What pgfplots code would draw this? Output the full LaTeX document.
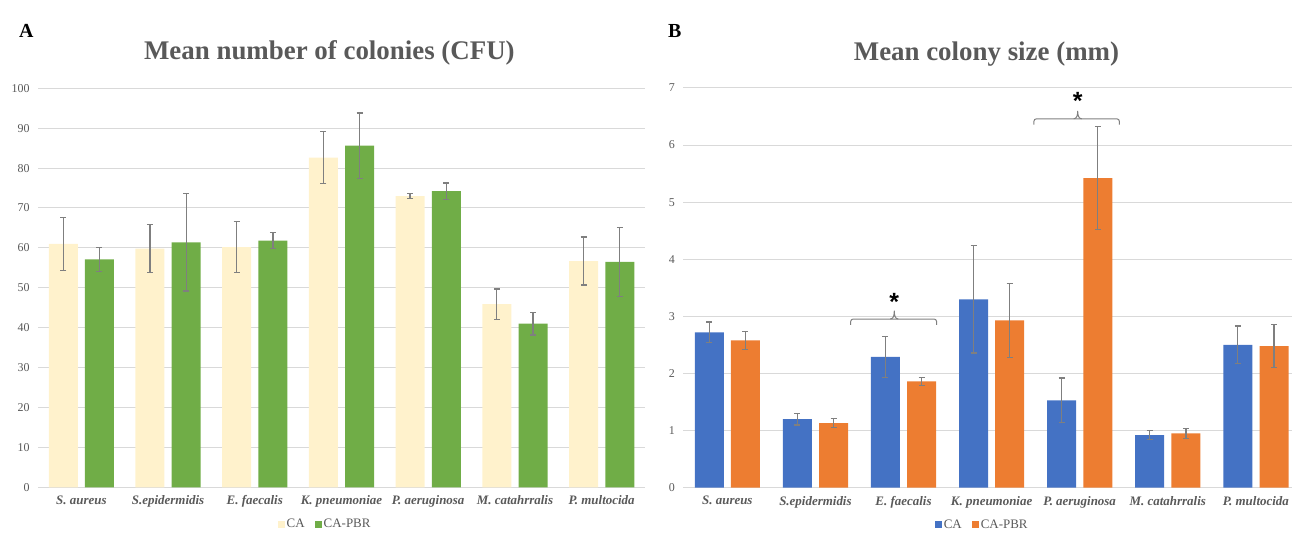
\documentclass[border=0pt]{standalone}
\usepackage{pgfplots}
\pgfplotsset{compat=1.18}
\usepackage{fontspec}
\setmainfont{Liberation Serif}
\newfontfamily\sansfnt{Liberation Sans}
\definecolor{caY}{HTML}{FFF2CC}
\definecolor{pbrG}{HTML}{70AD47}
\definecolor{caB}{HTML}{4472C4}
\definecolor{pbrO}{HTML}{ED7D31}
\definecolor{txt}{HTML}{595959}
\definecolor{grd}{HTML}{D9D9D9}
\definecolor{errc}{HTML}{7F7F7F}

\pgfplotsset{
  panel/.style={
    scale only axis,
    ybar=7.2bp, bar width=29bp,
    xmin=-0.5, ymin=0,
    xtick={0,...,6},
    xticklabels={S. aureus, S.epidermidis, E. faecalis, K. pneumoniae, P. aeruginosa, M. catahrralis, P. multocida},
    x tick label style={font=\fontsize{13}{15}\selectfont\bfseries\itshape, text=txt, yshift=-5bp},
    y tick label style={font=\fontsize{12}{14}\selectfont, text=txt, xshift=-5bp},
    /pgf/number format/assume math mode=true,
    axis line style={draw=none},
    major tick length=0pt,
    ymajorgrids, grid style={grd, line width=1bp},
    clip=false,
    error bars/y dir=both, error bars/y explicit,
    error bars/error bar style={draw=errc, line width=1.3bp},
    error bars/error mark options={rotate=90, draw=errc, mark size=3bp, line width=1.3bp},
    legend image code/.code={\fill[##1] (0bp,-3.5bp) rectangle (7bp,3.5bp);},
    legend style={anchor=center, draw=none, fill=none, legend columns=-1,
      font=\fontsize{13}{15}\selectfont, text=txt, inner sep=0pt,
      /tikz/every even column/.append style={column sep=8bp}},
    title style={anchor=base, font=\fontsize{27}{32}\selectfont\bfseries, text=txt},
  }
}

\begin{document}
\begin{tikzpicture}[x=1bp,y=1bp]
\useasboundingbox (0,0) rectangle (1292,533);
\node[anchor=base west, inner sep=0, font=\fontsize{20}{24}\selectfont\bfseries] at (19,495) {A};
\node[anchor=base west, inner sep=0, font=\fontsize{20}{24}\selectfont\bfseries] at (668,495) {B};

\begin{axis}[panel,
  at={(38bp,45.7bp)}, anchor=south west,
  width=607bp, height=399bp,
  xmax=6.5, ymax=100, ytick={0,10,...,100},
  title={Mean number of colonies (CFU)},
  title style={at={(rel axis cs:0.48,1.056)}},
  legend style={at={(rel axis cs:0.473,-0.093)}}]
\addplot[fill=caY, draw=none] coordinates {
  (0,61.0) +- (0,6.6)
  (1,59.8) +- (0,6.0)
  (2,60.2) +- (0,6.4)
  (3,82.6) +- (0,6.5)
  (4,73.0) +- (0,0.7)
  (5,45.9) +- (0,3.8)
  (6,56.7) +- (0,6.0)
};
\addplot[fill=pbrG, draw=none] coordinates {
  (0,57.1) +- (0,3.0)
  (1,61.4) +- (0,12.2)
  (2,61.8) +- (0,2.0)
  (3,85.6) +- (0,8.2)
  (4,74.2) +- (0,2.1)
  (5,41.0) +- (0,2.8)
  (6,56.5) +- (0,8.6)
};
\legend{CA, CA-PBR}
\end{axis}

\begin{axis}[panel,
  at={(683.3bp,45.3bp)}, anchor=south west,
  width=608.7bp, height=399.7bp,
  xmax=6.41, ymax=7, ytick={0,1,...,7},
  title={Mean colony size (mm)},
  title style={at={(rel axis cs:0.498,1.055)}},
  legend style={at={(rel axis cs:0.491,-0.093)}}]
\addplot[fill=caB, draw=none] coordinates {
  (0,2.72) +- (0,0.18)
  (1,1.20) +- (0,0.10)
  (2,2.29) +- (0,0.36)
  (3,3.30) +- (0,0.94)
  (4,1.53) +- (0,0.39)
  (5,0.92) +- (0,0.08)
  (6,2.50) +- (0,0.33)
};
\addplot[fill=pbrO, draw=none] coordinates {
  (0,2.58) +- (0,0.16)
  (1,1.13) +- (0,0.08)
  (2,1.86) +- (0,0.075)
  (3,2.93) +- (0,0.65)
  (4,5.42) +- (0,0.90)
  (5,0.95) +- (0,0.09)
  (6,2.48) +- (0,0.38)
};
\legend{CA, CA-PBR}
% significance brackets
\draw[errc, line width=1bp, rounded corners=2.5bp]
  (axis cs:1.40,2.85) -- (axis cs:1.40,2.954) -- (axis cs:2.375,2.954) -- (axis cs:2.375,2.85);
\draw[errc, line width=1bp]
  ([xshift=-4bp]axis cs:1.895,2.954) to[out=0,in=-90] (axis cs:1.895,3.10)
  to[out=-90,in=180] ([xshift=4bp]axis cs:1.895,2.954);
\draw[errc, line width=1bp, rounded corners=2.5bp]
  (axis cs:3.48,6.36) -- (axis cs:3.48,6.46) -- (axis cs:4.45,6.46) -- (axis cs:4.45,6.36);
\draw[errc, line width=1bp]
  ([xshift=-4bp]axis cs:3.977,6.46) to[out=0,in=-90] (axis cs:3.977,6.60)
  to[out=-90,in=180] ([xshift=4bp]axis cs:3.977,6.46);
\node[font=\sansfnt\bfseries\fontsize{25}{27}\selectfont] at (axis cs:1.895,3.26) {*};
\node[font=\sansfnt\bfseries\fontsize{25}{27}\selectfont] at (axis cs:3.977,6.77) {*};
\end{axis}
\end{tikzpicture}
\end{document}
